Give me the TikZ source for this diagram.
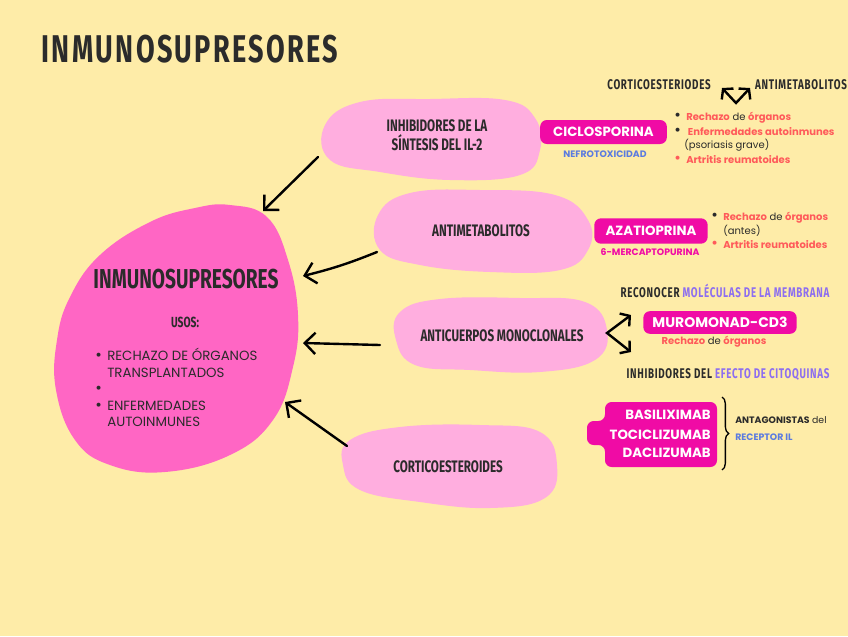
\documentclass[tikz,border=0pt]{standalone}
\usepackage{fontspec}
\setmainfont{Poppins}
\newfontfamily\handfont[FakeStretch=0.7]{Fira Sans}
\usetikzlibrary{arrows.meta, positioning, decorations.pathreplacing}
\definecolor{bgyellow}{HTML}{FEECA8}
\definecolor{bigpink}{HTML}{FF66C4}
\definecolor{softpink}{HTML}{FFAEDF}
\definecolor{mymagenta}{HTML}{F00BA5}
\definecolor{salmon}{HTML}{FF5A5A}
\definecolor{myblue}{HTML}{5B7BE0}
\definecolor{mypurple}{HTML}{8D6EF0}
\definecolor{ink}{HTML}{2B2B2B}
\newcommand\salm[1]{\textcolor{salmon}{\bfseries #1}}
\newcommand\bul[1]{\makebox[9pt][l]{\textcolor{#1}{\fontsize{12}{12}\selectfont\raisebox{-0.6pt}{\textbullet}}}}

\begin{document}
\begin{tikzpicture}[x=0.75pt, y=-0.75pt,
  title/.style={font=\handfont\bfseries\fontsize{29}{32}\addfontfeature{LetterSpace=6}\selectfont, text=ink, inner sep=0pt, anchor=base},
  bigtitle/.style={font=\handfont\bfseries\fontsize{20.5}{24}\selectfont, text=ink, inner sep=0pt, anchor=base},
  lbl/.style={font=\handfont\bfseries\fontsize{12.5}{15}\selectfont, text=ink, inner sep=0pt, anchor=base},
  tag/.style={font=\handfont\bfseries\fontsize{10.5}{12}\addfontfeature{LetterSpace=5}\selectfont, text=ink, inner sep=0pt, anchor=base},
  drug/.style={rectangle, rounded corners=5pt, fill=mymagenta, text=white, font=\bfseries\fontsize{10}{12}\selectfont, inner sep=0pt},
  note/.style={font=\bfseries\fontsize{7}{8}\selectfont, inner sep=0pt, anchor=base},
  use/.style={font=\fontsize{7.5}{9}\selectfont, text=ink, inner sep=0pt, anchor=base west},
  item/.style={font=\fontsize{10}{12}\selectfont, text=ink, inner sep=0pt, anchor=base west},
  arr/.style={-{Straight Barb[length=8pt, width=16pt]}, line width=1.8pt, line cap=round},
  fork/.style={{Straight Barb[length=5pt, width=12pt]}-{Straight Barb[length=5pt, width=12pt]}, line width=1.8pt, line cap=round},
]
\useasboundingbox (0,0) rectangle (848,636);
\fill[bgyellow] (0,0) rectangle (848,636);

\node[title] (title) at (190,62) {INMUNOSUPRESORES};

% central blob
\fill[bigpink] plot[smooth cycle, tension=0.7] coordinates {(230,205) (267,217) (288,260) (298,315) (293,367) (273,420) (230,455) (165,472) (110,465) (75,440) (56,390) (57,340) (70,297) (100,255) (150,222) (195,208)};
\node[bigtitle] (main) at (186,288) {INMUNOSUPRESORES};
\node[tag, font=\handfont\bfseries\fontsize{11}{12}\selectfont] (usos) at (185,327) {USOS:};
\node[item] (u1) at (95,360) {\bul{ink}RECHAZO DE ÓRGANOS};
\node[item] (u2) at (95,377) {\hspace*{9pt}TRANSPLANTADOS};
\node[item] (u3) at (95,393) {\bul{ink}};
\node[item] (u4) at (95,410) {\bul{ink}ENFERMEDADES};
\node[item] (u5) at (95,426) {\hspace*{9pt}AUTOINMUNES};

% group blobs
\fill[softpink] plot[smooth cycle, tension=0.7] coordinates {(325,125) (360,102) (430,99) (505,100) (535,118) (540,150) (520,175) (450,180) (380,172) (330,160)};
\fill[softpink] plot[smooth cycle, tension=0.7] coordinates {(378,215) (410,193) (480,190) (555,195) (588,220) (588,250) (560,270) (490,272) (420,265) (380,250)};
\fill[softpink] plot[smooth cycle, tension=0.7] coordinates {(400,312) (440,299) (520,298) (585,302) (607,330) (595,360) (540,372) (470,370) (415,365) (396,340)};
\fill[softpink] plot[smooth cycle, tension=0.7] coordinates {(350,440) (400,427) (480,425) (540,432) (557,465) (545,498) (490,508) (420,502) (360,490) (343,465)};

\node[lbl] (inh1) at (437,131) {INHIBIDORES DE LA};
\node[lbl] (inh2) at (437,150) {SÍNTESIS DEL IL-2};
\node[lbl] (antm) at (481,236) {ANTIMETABOLITOS};
\node[lbl] (antc) at (502,341) {ANTICUERPOS MONOCLONALES};
\node[lbl] (cort) at (448,472) {CORTICOESTEROIDES};

% arrows to the centre
\coordinate (inhT) at (318,157);
\coordinate (inhH) at (263,211);
\coordinate (antmT) at (377,252);
\coordinate (antmH) at (303,276);
\coordinate (antcT) at (380,345);
\coordinate (antcH) at (303,343);
\coordinate (cortT) at (347,446);
\coordinate (cortH) at (285,402);
\draw[arr] (inhT) -- (inhH);
\draw[arr] (antmT) to[bend left=4] (antmH);
\draw[arr] (antcT) -- (antcH);
\draw[arr] (cortT) -- (cortH);

% ciclosporina
\node[tag] (cortx) at (659,89) {CORTICOESTERIODES};
\node[tag] (antmx) at (801,89) {ANTIMETABOLITOS};
\coordinate (fkL) at (722,88);
\coordinate (fkA) at (736,103);
\coordinate (fkR) at (750,88);
\draw[fork] (fkL) -- (fkA) -- (fkR);

\node[drug, minimum width=95pt, minimum height=18pt] (ciclo) at (603.5,132) {CICLOSPORINA};
\node[note, text=myblue] (nefro) at (605,157) {NEFROTOXICIDAD};
\node[use] (c1) at (674,120) {\bul{ink}\salm{Rechazo} de \salm{órganos}};
\node[use] (c2) at (674,135) {\bul{ink}\salm{\,Enfermedades autoinmunes}};
\node[use] (c3) at (684,148) {(psoriasis grave)};
\node[use] (c4) at (674,163) {\bul{salmon}\salm{Artritis reumatoides}};

% azatioprina
\node[drug, minimum width=85pt, minimum height=19pt] (aza) at (651,231) {AZATIOPRINA};
\node[note, text=mymagenta] (merc) at (650,255) {6-MERCAPTOPURINA};
\node[use] (a1) at (711,220) {\bul{ink}\salm{Rechazo} de \salm{órganos}};
\node[use] (a2) at (723,234) {(antes)};
\node[use] (a3) at (711,248) {\bul{salmon}\salm{Artritis reumatoides}};

% anticuerpos
\node[tag] (recon) at (725,297) {RECONOCER \textcolor{mypurple}{MOLÉCULAS DE LA MEMBRANA}};
\node[drug, minimum width=115pt, minimum height=17pt, font=\bfseries\fontsize{10.5}{12}\selectfont] (muro) at (720,322.5) {MUROMONAD-CD3};
\node[use, anchor=base] (m1) at (714,344) {\salm{Rechazo} de \salm{órganos}};
\node[tag] (inhef) at (728,378) {INHIBIDORES DEL \textcolor{mypurple}{EFECTO DE CITOQUINAS}};
\coordinate (mkU) at (631,315);
\coordinate (mkA) at (607,333);
\coordinate (mkD) at (631,352);
\draw[fork] (mkU) -- (mkA) -- (mkD);

\fill[mymagenta, rounded corners=5pt] (605,402) -- (717,402) -- (717,467) -- (605,467) -- (605,445) -- (587,445) -- (587,421) -- (605,421) -- cycle;
\node[drug, fill=none, anchor=base east] (basi) at (711,419) {BASILIXIMAB};
\node[drug, fill=none, anchor=base east] (toci) at (711,439) {TOCICLIZUMAB};
\node[drug, fill=none, anchor=base east] (dacl) at (711,457) {DACLIZUMAB};
\draw[decorate, decoration={brace, amplitude=5pt}, line width=1pt] (722,397) -- (722,470);
\node[use, font=\fontsize{7}{9}\selectfont] (antg) at (735,423) {\textbf{ANTAGONISTAS} del};
\node[use, font=\bfseries\fontsize{7}{9}\selectfont, text=myblue] (recep) at (735,440) {RECEPTOR IL};
\end{tikzpicture}
\end{document}
